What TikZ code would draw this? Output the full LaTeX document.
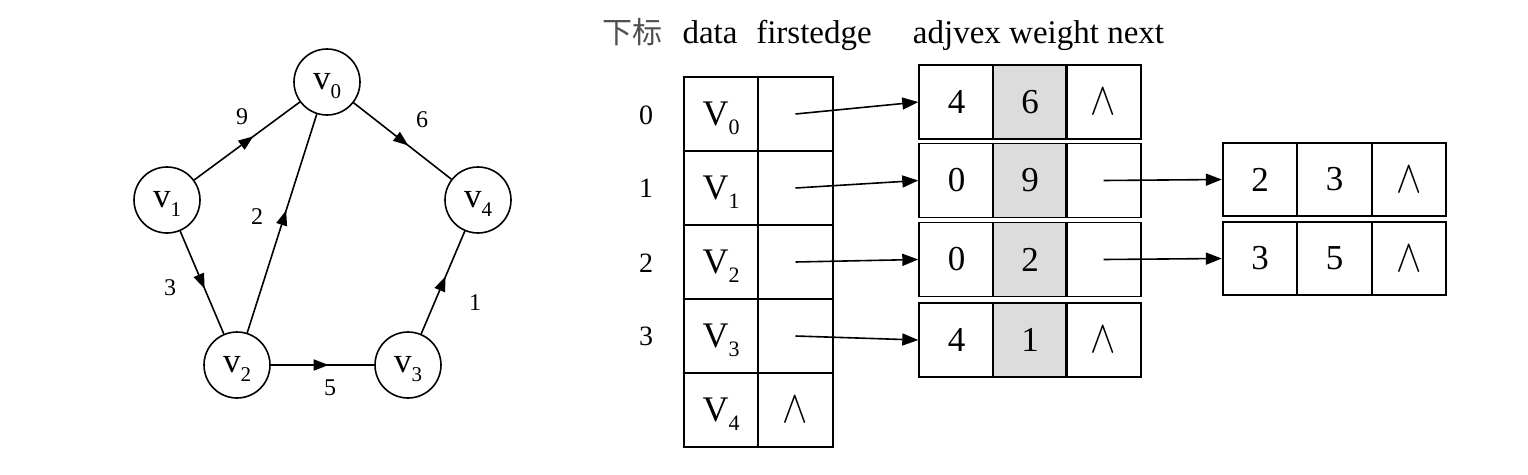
\documentclass[tikz,border=0pt]{standalone}
\usepackage{fontspec}
\setmainfont{Liberation Serif}
\newfontfamily\cjkfont{Noto Sans CJK SC}
\usepackage{tikz}
\usetikzlibrary{arrows.meta, decorations.markings}
\definecolor{weightgray}{HTML}{DCDCDC}
\definecolor{labelgray}{HTML}{505050}
\newcommand{\vsub}[3]{#1\raisebox{-0.25em}[0pt][0pt]{\fontsize{#3}{#3}\selectfont #2}}
\newcommand{\nullp}{{\normalsize\scalebox{3.8}[4.6]{$\wedge$}}}

\tikzset{
  vertex/.style={draw, circle, line width=1.6pt, minimum size=66pt, inner sep=0pt, font=\fontsize{35}{35}\selectfont},
  midarrow/.style={line width=1.6pt, postaction={decorate},
    decoration={markings, mark=at position 0.56 with {\arrow{Triangle[length=15pt,width=11pt]}}}},
  wlabel/.style={inner sep=0pt, font=\fontsize{24}{24}\selectfont},
  hdr/.style={inner sep=0pt, anchor=base, font=\fontsize{33}{33}\selectfont},
  idx/.style={inner sep=0pt, font=\fontsize{28}{28}\selectfont},
  cell/.style={draw, line width=1.9pt, minimum width=74.5pt, minimum height=74pt, inner sep=0pt, font=\fontsize{35}{35}\selectfont},
  wcell/.style={cell, fill=weightgray},
  ptr/.style={line width=1.6pt, -{Triangle[length=16pt,width=12pt]}}
}

\begin{document}
\begin{tikzpicture}[x=1pt, y=-1pt]
  \useasboundingbox (0,0) rectangle (1528,474);

  % graph
  \node[vertex] (v0) at (327,82) {\vsub{v}{0}{21}};
  \node[vertex] (v1) at (167,200) {\vsub{v}{1}{21}};
  \node[vertex] (v4) at (478,200) {\vsub{v}{4}{21}};
  \node[vertex] (v2) at (237,365) {\vsub{v}{2}{21}};
  \node[vertex] (v3) at (408,365) {\vsub{v}{3}{21}};

  \draw[midarrow] (v1) -- (v0);
  \draw[midarrow] (v0) -- (v4);
  \draw[midarrow] (v2) -- (v0);
  \draw[midarrow] (v1) -- (v2);
  \draw[midarrow] (v2) -- (v3);
  \draw[midarrow] (v3) -- (v4);

  \node[wlabel] (w9) at (242,117) {9};
  \node[wlabel] (w6) at (422,120) {6};
  \node[wlabel] (w2) at (257,217) {2};
  \node[wlabel] (w3) at (170,288) {3};
  \node[wlabel] (w1) at (475,303) {1};
  \node[wlabel] (w5) at (330,388) {5};

  % headers
  \node[hdr, text=labelgray] (hidx) at (632,43) {\cjkfont\fontsize{30}{30}\selectfont 下标};
  \node[hdr] (hdata) at (710,43) {data};
  \node[hdr] (hfirst) at (814,43) {firstedge};
  \node[hdr] (hedge) at (1038.5,43) {adjvex weight next};

  % vertex table
  \node[idx] (r0) at (646,115) {0};
  \node[idx] (r1) at (646,188) {1};
  \node[idx] (r2) at (646,263) {2};
  \node[idx] (r3) at (646,336) {3};

  \foreach \i/\y in {0/114, 1/188, 2/262, 3/336, 4/410} {
    \node[cell] (d\i) at (721,\y) {\fontsize{36}{36}\selectfont\vsub{V}{\i}{22}};
    \node[cell] (f\i) at (795.5,\y) {};
  }
  \node[inner sep=0pt] (fnull) at (f4.center) {\nullp};

  % edge table
  \node[cell] (adj0) at (956.5,102) {4};
  \node[wcell] (wt0) at (1030,102) {6};
  \node[cell] (nxt0) at (1103.5,102) {\nullp};

  \node[cell] (adj1) at (956.5,180.5) {0};
  \node[wcell] (wt1) at (1030,180.5) {9};
  \node[cell] (nxt1) at (1103.5,180.5) {};

  \node[cell] (adj2) at (956.5,259.5) {0};
  \node[wcell] (wt2) at (1030,259.5) {2};
  \node[cell] (nxt2) at (1103.5,259.5) {};

  \node[cell] (adj3) at (956.5,340) {4};
  \node[wcell] (wt3) at (1030,340) {1};
  \node[cell] (nxt3) at (1103.5,340) {\nullp};

  \node[cell, minimum height=73pt] (adj1b) at (1260,179.5) {2};
  \node[cell, minimum height=73pt] (wt1b) at (1334.5,179.5) {3};
  \node[cell, minimum height=73pt] (nxt1b) at (1409,179.5) {\nullp};

  \node[cell, minimum height=73pt] (adj2b) at (1260,258.5) {3};
  \node[cell, minimum height=73pt] (wt2b) at (1334.5,258.5) {5};
  \node[cell, minimum height=73pt] (nxt2b) at (1409,258.5) {\nullp};

  % pointers
  \draw[ptr] (f0.center) -- (adj0.west);
  \draw[ptr] (f1.center) -- (adj1.west);
  \draw[ptr] (f2.center) -- (adj2.west);
  \draw[ptr] (f3.center) -- (adj3.west);
  \draw[ptr] (nxt1.center) -- (adj1b.west);
  \draw[ptr] (nxt2.center) -- (adj2b.west);
\end{tikzpicture}
\end{document}
